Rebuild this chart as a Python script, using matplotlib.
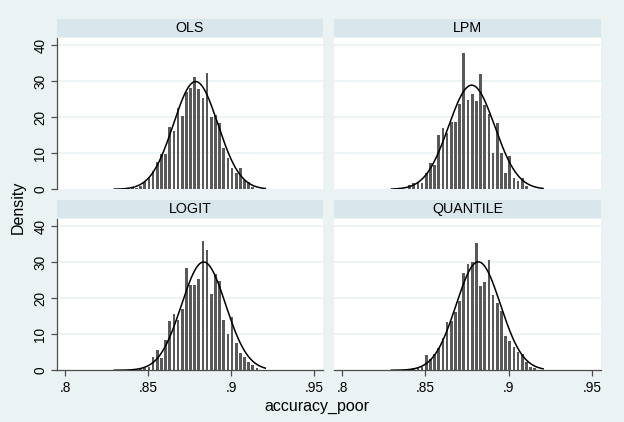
import numpy as np
import matplotlib
matplotlib.use("Agg")
import matplotlib.pyplot as plt

plt.rcParams['font.family'] = ['Liberation Sans', 'DejaVu Sans']

# ---- data ----
panels = ["OLS", "LPM", "LOGIT", "QUANTILE"]
bin_width = 0.0025
first_bin_center = 0.8405

ols_start = 0
ols_heights = [0.4, 0.4, 0.8, 2.0, 3.5, 5.0, 7.6, 9.8, 9.8, 17.4, 16.3, 22.5, 20.4,
               26.9, 28.0, 31.1, 27.8, 25.3, 32.4, 20.2, 20.6, 18.4, 11.4, 8.6, 5.8,
               4.6, 5.8, 2.6, 1.9, 0.7]
lpm_start = 0
lpm_heights = [1.1, 1.7, 1.9, 1.7, 4.6, 7.2, 6.8, 15.1, 16.9, 15.5, 18.6, 18.6, 23.6,
               37.7, 24.8, 26.4, 24.6, 31.9, 23.4, 21.0, 10.0, 18.5, 10.0, 4.4, 9.2,
               3.0, 2.2, 3.0, 0.8]
logit_start = 2
logit_heights = [0.3, 0.5, 0.9, 3.8, 5.7, 3.4, 8.5, 13.6, 15.5, 14.1, 16.9, 28.5, 23.8,
                 23.8, 25.4, 36.0, 33.3, 21.1, 26.6, 24.7, 14.1, 10.1, 14.7, 7.7, 4.7,
                 3.8, 2.4, 1.5, 0.6]
quant_start = 1
quant_heights = [0.6, 0.8, 1.0, 4.2, 3.0, 4.5, 6.2, 8.9, 13.4, 13.6, 16.1, 19.2, 26.9,
                 29.6, 30.2, 35.3, 23.4, 24.6, 30.5, 20.9, 18.8, 16.4, 9.4, 8.0, 6.4,
                 5.2, 4.5, 2.4, 1.0, 0.7]

starts = [ols_start, lpm_start, logit_start, quant_start]
heights = [ols_heights, lpm_heights, logit_heights, quant_heights]

# fitted normal density parameters (mean, sd)
normal_means = [0.8786, 0.8777, 0.8834, 0.8817]
normal_sds = [0.01334, 0.01380, 0.01327, 0.01325]
curve_range = (0.8296, 0.9205)

xticks = [0.80, 0.85, 0.90, 0.95]
xtick_labels = [".8", ".85", ".9", ".95"]
yticks = [0, 10, 20, 30, 40]

# ---- style ----
bg = "#EAF2F3"
strip_col = "#D9E6EC"
grid_col = "#EAF2F3"
bar_col = "#595959"
axis_col = "#4D4D4D"

W, H = 624, 422
fig = plt.figure(figsize=(W / 100, H / 100), dpi=100, facecolor=bg)

lefts = [57, 334]
widths = [266, 267]
plot_tops = [38, 219]
plot_h = 151.3
strip_h = 18.5

xlim = (0.7952, 0.9552)
ylim = (0, 42)

for i, name in enumerate(panels):
    r, c = divmod(i, 2)
    x0 = lefts[c]
    y_top = plot_tops[r]
    ax = fig.add_axes([x0 / W, (H - y_top - plot_h) / H, widths[c] / W, plot_h / H])
    ax.set_facecolor("white")
    ax.set_xlim(*xlim)
    ax.set_ylim(*ylim)

    for yt in yticks[1:]:
        ax.axhline(yt, color=grid_col, lw=1.2, zorder=0)

    h = np.array(heights[i])
    centers = first_bin_center + bin_width * (starts[i] + np.arange(len(h)))
    ax.bar(centers, h, width=bin_width * 0.65, color=bar_col, edgecolor="none", zorder=2)

    xs = np.linspace(curve_range[0], curve_range[1], 300)
    mu, sd = normal_means[i], normal_sds[i]
    ys = np.exp(-0.5 * ((xs - mu) / sd) ** 2) / (sd * np.sqrt(2 * np.pi))
    ax.plot(xs, ys, color="black", lw=1.1, zorder=3)

    for s in ax.spines.values():
        s.set_visible(False)

    ax.tick_params(colors=axis_col, labelcolor="black", length=4, width=0.9,
                   labelsize=9.8)
    if c == 0:
        ax.spines['left'].set_visible(True)
        ax.spines['left'].set_color(axis_col)
        ax.spines['left'].set_linewidth(0.9)
        ax.set_yticks(yticks)
        ax.set_yticklabels([str(v) for v in yticks], rotation=90, va="center")
        ax.tick_params(axis="y", pad=3)
    else:
        ax.set_yticks([])
    if r == 1:
        ax.spines['bottom'].set_visible(True)
        ax.spines['bottom'].set_color(axis_col)
        ax.spines['bottom'].set_linewidth(0.9)
        ax.set_xticks(xticks)
        ax.set_xticklabels(xtick_labels)
        ax.tick_params(axis="x", pad=3.5)
    else:
        ax.set_xticks([])

    # strip above the plot area
    sax = fig.add_axes([x0 / W, (H - y_top + 0.7) / H, widths[c] / W, strip_h / H])
    sax.set_facecolor(strip_col)
    sax.set_xticks([])
    sax.set_yticks([])
    for s in sax.spines.values():
        s.set_visible(False)
    sax.text(0.5, 0.48, name, ha="center", va="center", fontsize=10.3,
             transform=sax.transAxes)

fig.text(316.5 / W, (H - 406) / H, "accuracy_poor", ha="center", va="center", fontsize=11.5)
fig.text(18 / W, (H - 207) / H, "Density", ha="center", va="center", rotation=90,
         fontsize=11.5)

fig.savefig("out.png", dpi=100, facecolor=bg)
